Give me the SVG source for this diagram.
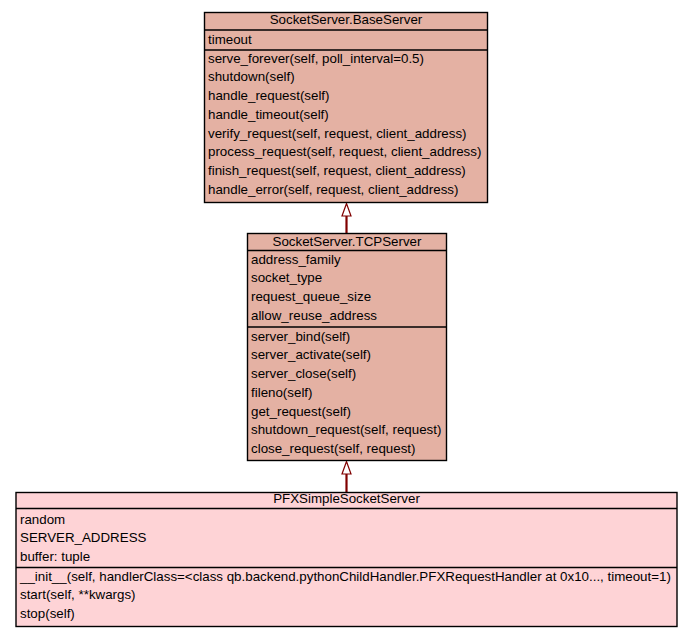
<svg xmlns="http://www.w3.org/2000/svg" width="693" height="637" viewBox="0 0 693 637">
<style>
text{font-family:"Liberation Sans",Arial,sans-serif;font-size:13.33px;fill:#000}
.t{text-anchor:middle}
.b1{fill:#E4B1A3;stroke:#000;stroke-width:1.4}
.b2{fill:#FED3D6;stroke:#000;stroke-width:1.4}
.sep{stroke:#000;stroke-width:1.4}
.edge{stroke:#800000;stroke-width:2.2;fill:none}
.head{fill:#fff;stroke:#800000;stroke-width:1.2}
</style>
<rect width="693" height="637" fill="#fff"/>
<g id="connectors">
<line class="edge" x1="346.5" y1="216" x2="346.5" y2="233"/>
<polygon class="head" points="346.5,203.5 342,216 351,216"/>
<line class="edge" x1="346.5" y1="474" x2="346.5" y2="492"/>
<polygon class="head" points="346.5,461.5 342,474 351,474"/>
</g>
<g id="BaseServer">
<rect class="b1" x="204.5" y="12.5" width="283" height="190"/>
<line class="sep" x1="204.5" y1="30" x2="487.5" y2="30"/>
<line class="sep" x1="204.5" y1="50" x2="487.5" y2="50"/>
<text class="t" x="346" y="24">SocketServer.BaseServer</text>
<text x="208" y="43.5">timeout</text>
<text x="208" y="62.5">serve_forever(self, poll_interval=0.5)</text>
<text x="208" y="81.25">shutdown(self)</text>
<text x="208" y="100">handle_request(self)</text>
<text x="208" y="118.75">handle_timeout(self)</text>
<text x="208" y="137.5">verify_request(self, request, client_address)</text>
<text x="208" y="156.25">process_request(self, request, client_address)</text>
<text x="208" y="175">finish_request(self, request, client_address)</text>
<text x="208" y="193.75">handle_error(self, request, client_address)</text>
</g>
<g id="TCPServer">
<rect class="b1" x="247.5" y="233.5" width="199" height="227"/>
<line class="sep" x1="247.5" y1="250.5" x2="446.5" y2="250.5"/>
<line class="sep" x1="247.5" y1="327" x2="446.5" y2="327"/>
<text class="t" x="347" y="245.5">SocketServer.TCPServer</text>
<text x="251" y="263.5">address_family</text>
<text x="251" y="282.25">socket_type</text>
<text x="251" y="301">request_queue_size</text>
<text x="251" y="319.75">allow_reuse_address</text>
<text x="251" y="340.5">server_bind(self)</text>
<text x="251" y="359.25">server_activate(self)</text>
<text x="251" y="378">server_close(self)</text>
<text x="251" y="396.75">fileno(self)</text>
<text x="251" y="415.5">get_request(self)</text>
<text x="251" y="434.25">shutdown_request(self, request)</text>
<text x="251" y="453">close_request(self, request)</text>
</g>
<g id="PFXSimpleSocketServer">
<rect class="b2" x="16" y="492.5" width="661" height="134"/>
<line class="sep" x1="16" y1="508.5" x2="677" y2="508.5"/>
<line class="sep" x1="16" y1="567.5" x2="677" y2="567.5"/>
<text class="t" x="346.5" y="503">PFXSimpleSocketServer</text>
<text x="20" y="523.5">random</text>
<text x="20" y="542.25">SERVER_ADDRESS</text>
<text x="20" y="561">buffer: tuple</text>
<text x="20" y="580.5">__init__(self, handlerClass=&lt;class qb.backend.pythonChildHandler.PFXRequestHandler at 0x10..., timeout=1)</text>
<text x="20" y="599.25">start(self, **kwargs)</text>
<text x="20" y="618">stop(self)</text>
</g>
</svg>
